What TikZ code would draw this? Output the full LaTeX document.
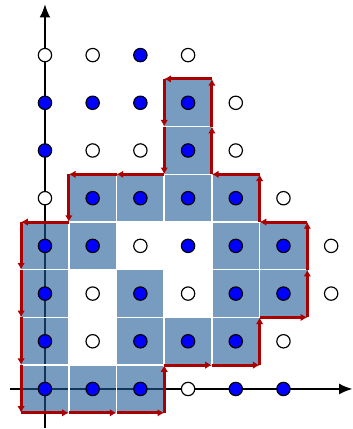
\documentclass[tikz,border=0pt]{standalone}
\usepackage{xcolor}
\usetikzlibrary{arrows.meta}
\definecolor{cellblue}{RGB}{30,90,150}
\definecolor{pathred}{RGB}{170,0,0}
\definecolor{dotblue}{RGB}{0,0,255}

\begin{document}
\begin{tikzpicture}[
  x=1cm,
  y=1cm,
  axis/.style={black, line width=1.2pt, -{Latex[length=8pt,width=6.5pt]}},
  cell/.style={fill=cellblue, fill opacity=0.6, draw=white, line width=0.9pt},
  bdot/.style={circle, draw=black, line width=0.7pt, fill=dotblue, inner sep=0pt, minimum size=0.28cm},
  wdot/.style={bdot, fill=white},
  edge/.style={pathred, line width=1.8pt, -{Latex[length=4pt,width=4.5pt]}}
]
  \useasboundingbox (-0.943,-0.839) rectangle (6.457,8.155);

  % axes
  \coordinate (xs) at (-0.73,0);
  \coordinate (xe) at (6.45,0);
  \coordinate (ys) at (0,-0.82);
  \coordinate (ye) at (0,8.07);
  \draw[axis] (xs) -- (xe);
  \draw[axis] (ys) -- (ye);

  % cells
  \foreach \i/\j in {3/6,3/5,1/4,2/4,3/4,4/4,0/3,1/3,4/3,5/3,
                     0/2,2/2,4/2,5/2,0/1,2/1,3/1,4/1,0/0,1/0,2/0}
    \draw[cell] (\i-0.5,\j-0.5) rectangle +(1,1);

  % lattice points
  \foreach \i/\j in {0/0,1/0,2/0,4/0,5/0,0/1,2/1,3/1,4/1,0/2,2/2,4/2,5/2,
                     0/3,1/3,3/3,4/3,5/3,1/4,2/4,3/4,4/4,0/5,3/5,
                     0/6,1/6,2/6,3/6,2/7}
    \node[bdot] (p-\i-\j) at (\i,\j) {};
  \foreach \i/\j in {3/0,1/1,5/1,1/2,3/2,6/2,2/3,6/3,0/4,5/4,
                     1/5,2/5,4/5,4/6,0/7,1/7,3/7}
    \node[wdot] (p-\i-\j) at (\i,\j) {};

  % boundary
  \foreach \x/\y [remember=\x as \lx (initially -0.5),
                  remember=\y as \ly (initially -0.5)] in
    {0.5/-0.5,1.5/-0.5,2.5/-0.5,2.5/0.5,3.5/0.5,4.5/0.5,4.5/1.5,5.5/1.5,
     5.5/2.5,5.5/3.5,4.5/3.5,4.5/4.5,3.5/4.5,3.5/5.5,3.5/6.5,2.5/6.5,
     2.5/5.5,2.5/4.5,1.5/4.5,0.5/4.5,0.5/3.5,-0.5/3.5,-0.5/2.5,-0.5/1.5,
     -0.5/0.5,-0.5/-0.5}
    \draw[edge] (\lx,\ly) -- (\x,\y);
\end{tikzpicture}
\end{document}
